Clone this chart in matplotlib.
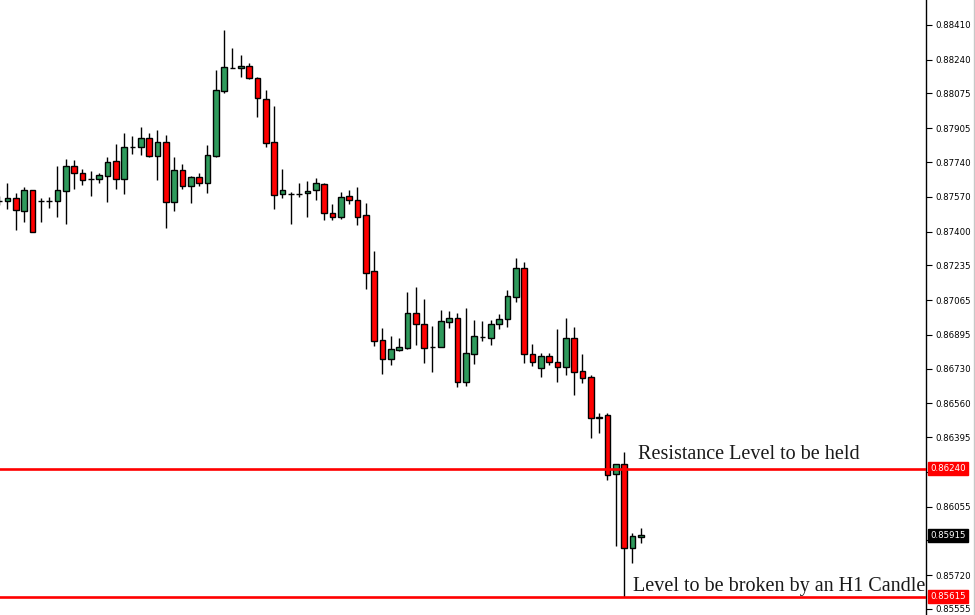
import numpy as np
import matplotlib
matplotlib.use("Agg")
import matplotlib.pyplot as plt
from matplotlib.lines import Line2D

# H1 candles (EURGBP-like prices)
opens = [0.87551, 0.87549, 0.87564, 0.87500, 0.87603, 0.87551, 0.87551, 0.87549, 0.87598, 0.87720,
         0.87686, 0.87658, 0.87657, 0.87671, 0.87745, 0.87657, 0.87813, 0.87813, 0.87857, 0.87769,
         0.87838, 0.87544, 0.87701, 0.87623, 0.87667, 0.87637, 0.87769, 0.88087, 0.88201, 0.88200,
         0.88209, 0.88151, 0.88048, 0.87838, 0.87583, 0.87583, 0.87583, 0.87588, 0.87603, 0.87632,
         0.87490, 0.87471, 0.87574, 0.87554, 0.87481, 0.87207, 0.86869, 0.86777, 0.86821, 0.86830,
         0.87001, 0.86948, 0.86835, 0.86835, 0.86957, 0.86977, 0.86664, 0.86801, 0.86884, 0.86879,
         0.86948, 0.86972, 0.87080, 0.87222, 0.86801, 0.86733, 0.86791, 0.86762, 0.86737, 0.86879,
         0.86718, 0.86688, 0.86488, 0.86503, 0.86214, 0.86263, 0.85852, 0.85906]
highs = [0.87574, 0.87637, 0.87588, 0.87618, 0.87603, 0.87564, 0.87569, 0.87720, 0.87755, 0.87750,
         0.87706, 0.87696, 0.87686, 0.87764, 0.87828, 0.87882, 0.87867, 0.87911, 0.87882, 0.87896,
         0.87872, 0.87764, 0.87730, 0.87671, 0.87686, 0.87823, 0.88190, 0.88385, 0.88297, 0.88263,
         0.88224, 0.88155, 0.88092, 0.88014, 0.87706, 0.87593, 0.87637, 0.87647, 0.87662, 0.87637,
         0.87534, 0.87593, 0.87603, 0.87618, 0.87539, 0.87305, 0.86928, 0.86889, 0.86879, 0.87104,
         0.87129, 0.87070, 0.86938, 0.87016, 0.87011, 0.87001, 0.87026, 0.86967, 0.86962, 0.86967,
         0.86997, 0.87114, 0.87270, 0.87251, 0.86850, 0.86806, 0.86806, 0.86923, 0.86977, 0.86933,
         0.86801, 0.86698, 0.86512, 0.86512, 0.86263, 0.86322, 0.85926, 0.85950]
lows = [0.87530, 0.87510, 0.87407, 0.87446, 0.87398, 0.87446, 0.87515, 0.87471, 0.87437, 0.87608,
        0.87627, 0.87574, 0.87637, 0.87544, 0.87608, 0.87583, 0.87779, 0.87774, 0.87764, 0.87652,
        0.87417, 0.87500, 0.87608, 0.87539, 0.87623, 0.87588, 0.87764, 0.88077, 0.88200, 0.88155,
        0.88146, 0.87960, 0.87813, 0.87510, 0.87564, 0.87437, 0.87569, 0.87471, 0.87554, 0.87456,
        0.87456, 0.87461, 0.87534, 0.87432, 0.87119, 0.86840, 0.86703, 0.86747, 0.86816, 0.86825,
        0.86845, 0.86757, 0.86713, 0.86835, 0.86928, 0.86640, 0.86644, 0.86752, 0.86865, 0.86845,
        0.86923, 0.86933, 0.87055, 0.86757, 0.86742, 0.86688, 0.86747, 0.86664, 0.86698, 0.86600,
        0.86659, 0.86390, 0.86415, 0.86185, 0.85862, 0.85615, 0.85779, 0.85877]
closes = [0.87551, 0.87564, 0.87505, 0.87603, 0.87398, 0.87551, 0.87551, 0.87603, 0.87720, 0.87686,
          0.87652, 0.87658, 0.87676, 0.87740, 0.87657, 0.87813, 0.87813, 0.87857, 0.87769, 0.87838,
          0.87544, 0.87701, 0.87623, 0.87667, 0.87637, 0.87774, 0.88092, 0.88204, 0.88201, 0.88209,
          0.88151, 0.88053, 0.87833, 0.87578, 0.87603, 0.87583, 0.87583, 0.87598, 0.87637, 0.87490,
          0.87471, 0.87569, 0.87554, 0.87471, 0.87197, 0.86865, 0.86777, 0.86825, 0.86835, 0.87001,
          0.86948, 0.86830, 0.86835, 0.86962, 0.86977, 0.86664, 0.86806, 0.86889, 0.86884, 0.86948,
          0.86972, 0.87085, 0.87222, 0.86801, 0.86762, 0.86791, 0.86762, 0.86737, 0.86879, 0.86713,
          0.86684, 0.86488, 0.86493, 0.86209, 0.86263, 0.85852, 0.85911, 0.85915]

price_ticks = [0.88410, 0.88240, 0.88075, 0.87905, 0.87740, 0.87570, 0.87400, 0.87235, 0.87065,
               0.86895, 0.86730, 0.86560, 0.86395, 0.86225, 0.86055, 0.85890, 0.85720, 0.85555]
# labels hidden behind the level / last-price boxes
hidden_ticks = [0.86225, 0.85890]

resistance = 0.86240
support = 0.85615
last_price = 0.85915

GREEN = "#2f9a5c"
RED = "#ff0000"

fig = plt.figure(figsize=(9.75, 6.15), dpi=100)
ax = fig.add_axes([0, 0, 926 / 975, 1])

x = np.arange(len(opens))
o = np.array(opens)
h = np.array(highs)
l = np.array(lows)
c = np.array(closes)
up = c >= o

# wicks then bodies
ax.vlines(x, l, h, color="black", linewidth=1.0, zorder=2)
body_lo = np.minimum(o, c)
body_hi = np.maximum(o, c)
colors = [GREEN if u else RED for u in up]
ax.bar(x, body_hi - body_lo, bottom=body_lo, width=0.68, color=colors,
       edgecolor="black", linewidth=1.0, zorder=3)

# levels
ax.axhline(resistance, color=RED, linewidth=1.9, zorder=4)
ax.axhline(support, color=RED, linewidth=1.9, zorder=4)

ax.text(76.7, 0.86309, "Resistance Level to be held", family="Liberation Serif",
        fontsize=14.5, color="#1a1a1a", va="center", ha="left", zorder=5)
ax.text(76.1, 0.85667, "Level to be broken by an H1 Candle", family="Liberation Serif",
        fontsize=14.5, color="#1a1a1a", va="center", ha="left", zorder=5, clip_on=True)

ax.set_xlim(0.12, 111.24)
ax.set_ylim(0.855256, 0.88532)

# price axis on the right, MT4 style
for side in ["left", "top", "bottom"]:
    ax.spines[side].set_visible(False)
ax.spines["right"].set_linewidth(1.0)
ax.set_xticks([])
ax.yaxis.tick_right()
ax.set_yticks(price_ticks)
ax.set_yticklabels(["" if p in hidden_ticks else f"{p:.5f}" for p in price_ticks])
ax.tick_params(axis="y", direction="out", length=4, width=0.8, pad=3,
               labelsize=6.2, labelcolor="black", colors="black")

trans = ax.get_yaxis_transform()
for price, bg in [(resistance, RED), (support, RED), (last_price, "black")]:
    ax.text(1.0045, price, f"{price:.5f}", transform=trans, fontsize=6.2, color="white",
            va="center", ha="left", clip_on=False, zorder=6,
            bbox=dict(boxstyle="square,pad=0.22", facecolor=bg, edgecolor=bg))

fig.add_artist(Line2D([0.9985, 0.9985], [0, 1], color="#c8c8c8", linewidth=1.0))

fig.savefig("out.png", dpi=100)
